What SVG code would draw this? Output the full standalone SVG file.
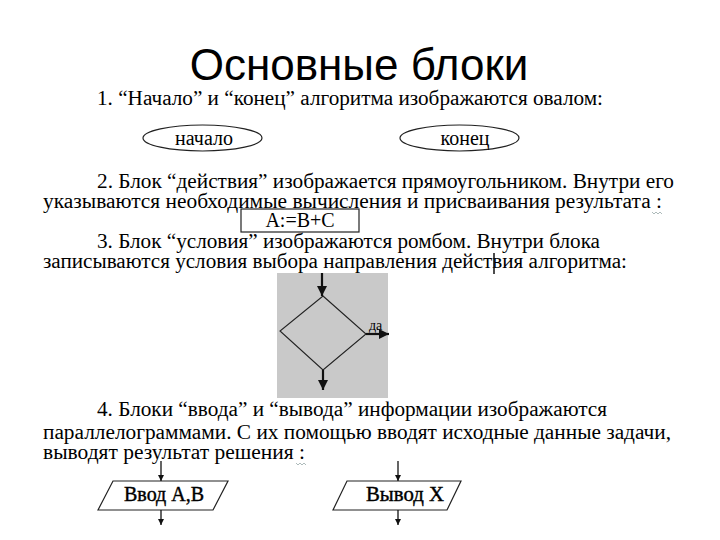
<svg xmlns="http://www.w3.org/2000/svg" width="720" height="540" viewBox="0 0 720 540">
<defs>
<style>
.t{font-family:"Liberation Serif","Times New Roman",serif;font-size:20px;fill:#000}
.s{fill:#fff;stroke:#222;stroke-width:1.2}
.c{stroke:#111;stroke-width:1.3;fill:none}
.ct{stroke:#111;stroke-width:2.2;fill:none}
.lbl{font-family:"Liberation Serif","Times New Roman",serif;font-size:20px;fill:#000;text-anchor:middle}
.pl{stroke:#000;stroke-width:0.4}
.sq{stroke:#9aa;stroke-width:0.8;fill:none}
</style>
<marker id="ah" viewBox="0 0 10 10" refX="10" refY="5" markerWidth="6" markerHeight="6" markerUnits="userSpaceOnUse" orient="auto"><path d="M0,0L10,5L0,10z" fill="#111"/></marker>
<marker id="ahb" viewBox="0 0 10 10" refX="10" refY="5" markerWidth="10" markerHeight="10" markerUnits="userSpaceOnUse" orient="auto"><path d="M0,0L10,5L0,10z" fill="#111"/></marker>
</defs>
<rect width="720" height="540" fill="#fff"/>
<text x="359" y="80" text-anchor="middle" font-family="Liberation Sans, Arial, sans-serif" font-size="44" fill="#000">Основные блоки</text>
<g id="texts">
<text class="t" x="97" y="105" textLength="506" lengthAdjust="spacingAndGlyphs">1. “Начало” и “конец” алгоритма изображаются овалом:</text>
<text class="t" x="97" y="188" textLength="577" lengthAdjust="spacingAndGlyphs">2. Блок “действия” изображается прямоугольником. Внутри его</text>
<text class="t" x="43" y="208" textLength="619" lengthAdjust="spacingAndGlyphs">указываются необходимые вычисления и присваивания результата :</text>
<text class="t" x="97" y="248" textLength="503" lengthAdjust="spacingAndGlyphs">3. Блок “условия” изображаются ромбом. Внутри блока</text>
<text class="t" x="43" y="268" textLength="584" lengthAdjust="spacingAndGlyphs">записываются условия выбора направления действия алгоритма:</text>
<text class="t" x="97" y="416" textLength="510" lengthAdjust="spacingAndGlyphs">4. Блоки “ввода” и “вывода” информации изображаются</text>
<text class="t" x="43" y="439" textLength="628" lengthAdjust="spacingAndGlyphs">параллелограммами. С их помощью вводят исходные данные задачи,</text>
<text class="t" x="43" y="459" textLength="262" lengthAdjust="spacingAndGlyphs">выводят результат решения :</text>
<path class="sq" d="M652,212l2,2l2,-2l2,2l2,-2l2,2"/>
<path class="sq" d="M296,463l2,2l2,-2l2,2l2,-2l2,2"/>
<line x1="494" y1="253" x2="494" y2="274" stroke="#111" stroke-width="1.5"/>
</g>
<g id="start">
<ellipse class="s" cx="202.5" cy="138" rx="59.5" ry="13"/>
<text class="lbl" x="204" y="145">начало</text>
</g>
<g id="end">
<ellipse class="s" cx="459.5" cy="138" rx="59.5" ry="13"/>
<text class="lbl" x="465" y="145">конец</text>
</g>
<g id="action">
<rect class="s" x="241" y="209" width="118" height="23"/>
<text class="lbl" x="300" y="227" font-size="19">A:=B+C</text>
</g>
<g id="condition">
<rect x="277" y="273" width="111" height="125" fill="#c9c9c9"/>
<polygon points="323,296 366,334 323,370 280,331" fill="none" stroke="#222" stroke-width="1.1"/>
<text x="369" y="330" font-family="Liberation Serif, Times New Roman, serif" font-size="14" fill="#000">да</text>
</g>
<g id="input">
<polygon class="s" points="113,481 228,481 213,510 98,510"/>
<text class="lbl pl" x="164" y="501" textLength="80" lengthAdjust="spacingAndGlyphs">Ввод А,В</text>
</g>
<g id="output">
<polygon class="s" points="347,481 461,481 447,510 333,510"/>
<text class="lbl pl" x="405" y="501" textLength="78" lengthAdjust="spacingAndGlyphs">Вывод X</text>
</g>
<g id="connectors">
<line class="ct" x1="322" y1="273" x2="322" y2="296" marker-end="url(#ahb)"/>
<line class="ct" x1="323" y1="370" x2="323" y2="390" marker-end="url(#ahb)"/>
<line class="ct" x1="366" y1="334" x2="389" y2="334" marker-end="url(#ahb)"/>
<line class="c" x1="161" y1="461" x2="161" y2="481" marker-end="url(#ah)"/>
<line class="c" x1="161" y1="510" x2="161" y2="525" marker-end="url(#ah)"/>
<line class="c" x1="398" y1="461" x2="398" y2="481" marker-end="url(#ah)"/>
<line class="c" x1="398" y1="510" x2="398" y2="525" marker-end="url(#ah)"/>
</g>
</svg>
